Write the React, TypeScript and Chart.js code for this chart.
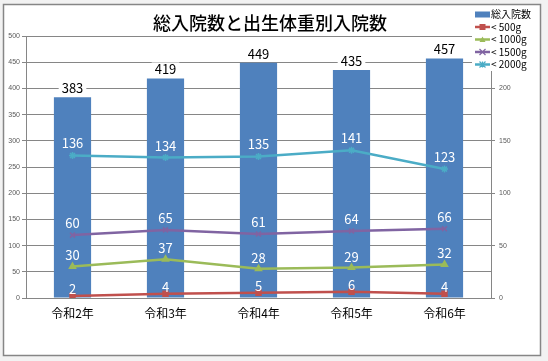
import React, { useEffect, useRef } from "react";
import { Chart, registerables } from "chart.js";

Chart.register(...registerables);

const categories = ["令和2年", "令和3年", "令和4年", "令和5年", "令和6年"];
const totalAdmissions = [383, 419, 449, 435, 457];
const under500 = [2, 4, 5, 6, 4];
const under1000 = [30, 37, 28, 29, 32];
const under1500 = [60, 65, 61, 64, 66];
const under2000 = [136, 134, 135, 141, 123];
const seriesNames = ["総入院数", "< 500g", "< 1000g", "< 1500g", "< 2000g"];
const chartTitle = "総入院数と出生体重別入院数";
const leftAxis = { min: 0, max: 500, step: 50 };
const rightAxis = { min: 0, max: 250, step: 50 };

const COLORS = ["#4F81BD", "#C0504D", "#9BBB59", "#8064A2", "#4BACC6"];
const JP = '"Noto Sans CJK JP", "Noto Sans", sans-serif';

function drawMarker(ctx: CanvasRenderingContext2D, style: string, x: number, y: number, r: number, color: string) {
  ctx.save();
  ctx.fillStyle = color;
  ctx.strokeStyle = color;
  ctx.lineWidth = 1.2;
  ctx.beginPath();
  if (style === "rect") {
    ctx.fillRect(x - r, y - r, 2 * r, 2 * r);
  } else if (style === "triangle") {
    ctx.moveTo(x, y - r);
    ctx.lineTo(x + r, y + r * 0.8);
    ctx.lineTo(x - r, y + r * 0.8);
    ctx.closePath();
    ctx.fill();
  } else if (style === "crossRot") {
    ctx.moveTo(x - r, y - r);
    ctx.lineTo(x + r, y + r);
    ctx.moveTo(x + r, y - r);
    ctx.lineTo(x - r, y + r);
    ctx.stroke();
  } else if (style === "star") {
    ctx.moveTo(x - r, y - r);
    ctx.lineTo(x + r, y + r);
    ctx.moveTo(x + r, y - r);
    ctx.lineTo(x - r, y + r);
    ctx.moveTo(x, y - r);
    ctx.lineTo(x, y + r);
    ctx.stroke();
  }
  ctx.restore();
}

const frame = {
  id: "frame",
  beforeDraw(chart: any) {
    const ctx = chart.ctx;
    ctx.save();
    ctx.fillStyle = "#f2f2f2";
    ctx.fillRect(0, 0, chart.width, chart.height);
    ctx.fillStyle = "#ffffff";
    ctx.fillRect(3.5, 4.5, 537, 351);
    ctx.strokeStyle = "#868686";
    ctx.lineWidth = 1.5;
    ctx.strokeRect(3.5, 4.5, 537, 351);
    ctx.fillStyle = "#000000";
    ctx.font = `500 18px ${JP}`;
    ctx.textAlign = "center";
    ctx.textBaseline = "middle";
    ctx.fillText(chartTitle, 270, 23);
    ctx.restore();
  },
};

const valueLabels = {
  id: "valueLabels",
  afterDatasetsDraw(chart: any) {
    const ctx = chart.ctx;
    ctx.save();
    ctx.textAlign = "center";
    ctx.textBaseline = "middle";
    chart.data.datasets.forEach((ds: any, di: number) => {
      const meta = chart.getDatasetMeta(di);
      meta.data.forEach((el: any, i: number) => {
        const txt = String(ds.data[i]);
        if (ds.type === "bar") {
          ctx.font = `13px ${JP}`;
          const w = ctx.measureText(txt).width + 6;
          const ty = el.y - 9;
          ctx.fillStyle = "#ffffff";
          ctx.fillRect(el.x - w / 2, ty - 7, w, 14);
          ctx.fillStyle = "#000000";
          ctx.fillText(txt, el.x, ty);
        } else {
          ctx.font = `13px ${JP}`;
          ctx.fillStyle = "#ffffff";
          ctx.fillText(txt, el.x, el.y - (ds.labelOffset || 12));
        }
      });
    });
    ctx.restore();
  },
};

const legendBox = {
  id: "legendBox",
  afterDraw(chart: any) {
    const ctx = chart.ctx;
    ctx.save();
    ctx.fillStyle = "#ffffff";
    ctx.fillRect(472, 6, 67, 65);
    const x0 = 475;
    const rowY = [14.5, 27, 39.5, 52, 64.5];
    const styles = ["", "rect", "triangle", "crossRot", "star"];
    seriesNames.forEach((name, i) => {
      const y = rowY[i];
      if (i === 0) {
        ctx.fillStyle = COLORS[0];
        ctx.fillRect(x0, y - 3, 15, 6);
      } else {
        ctx.strokeStyle = COLORS[i];
        ctx.lineWidth = 2.5;
        ctx.beginPath();
        ctx.moveTo(x0, y);
        ctx.lineTo(x0 + 15, y);
        ctx.stroke();
        drawMarker(ctx, styles[i], x0 + 7.5, y, 3, COLORS[i]);
      }
      ctx.fillStyle = "#000000";
      ctx.font = `10px ${JP}`;
      ctx.textAlign = "left";
      ctx.textBaseline = "middle";
      ctx.fillText(name, x0 + 16, y);
    });
    ctx.restore();
  },
};

export default function App() {
  const ref = useRef<HTMLCanvasElement | null>(null);

  useEffect(() => {
    if (!ref.current) return;
    const lineDs = (label: string, data: number[], color: string, pointStyle: string, labelOffset: number, order: number) => ({
      type: "line" as const,
      label,
      data,
      yAxisID: "y1",
      borderColor: color,
      backgroundColor: color,
      borderWidth: 2.5,
      pointStyle,
      pointRadius: 3.5,
      pointBorderWidth: 1.5,
      tension: 0,
      labelOffset,
      order,
    });
    const chart = new Chart(ref.current, {
      data: {
        labels: categories,
        datasets: [
          {
            type: "bar",
            label: seriesNames[0],
            data: totalAdmissions,
            yAxisID: "y",
            backgroundColor: COLORS[0],
            barPercentage: 0.4,
            categoryPercentage: 1,
            order: 10,
          } as any,
          lineDs(seriesNames[1], under500, COLORS[1], "rect", 7, 4),
          lineDs(seriesNames[2], under1000, COLORS[2], "triangle", 11, 3),
          lineDs(seriesNames[3], under1500, COLORS[3], "crossRot", 12, 2),
          lineDs(seriesNames[4], under2000, COLORS[4], "star", 12, 1),
        ],
      },
      options: {
        animation: false,
        responsive: false,
        layout: { padding: { top: 36, left: 0, right: 0, bottom: 0 } },
        plugins: { legend: { display: false }, tooltip: { enabled: false }, title: { display: false } },
        scales: {
          x: {
            grid: { display: false },
            border: { color: "#868686" },
            ticks: { font: { family: JP, size: 12 }, color: "#000000", padding: 0, maxRotation: 0 },
            afterFit: (s: any) => { s.height = 63; },
          },
          y: {
            position: "left",
            min: leftAxis.min,
            max: leftAxis.max,
            ticks: { stepSize: leftAxis.step, font: { family: "Liberation Sans", size: 7 }, color: "#595959", padding: 2 },
            grid: { color: "#868686", tickLength: 4, lineWidth: 1 },
            border: { color: "#868686" },
            afterFit: (s: any) => { s.width = 26; },
          },
          y1: {
            position: "right",
            min: rightAxis.min,
            max: rightAxis.max,
            ticks: { stepSize: rightAxis.step, font: { family: "Liberation Sans", size: 7 }, color: "#595959", padding: 4 },
            grid: { drawOnChartArea: false, color: "#868686", tickLength: 4 },
            border: { color: "#868686" },
            afterFit: (s: any) => { s.width = 57; },
          },
        },
      } as any,
      plugins: [frame, valueLabels, legendBox],
    });
    return () => chart.destroy();
  }, []);

  return (
    <div style={{ position: "absolute", left: 0, top: 0, width: 548, height: 361 }}>
      <canvas ref={ref} width={548} height={361} style={{ display: "block", width: 548, height: 361 }} />
    </div>
  );
}
